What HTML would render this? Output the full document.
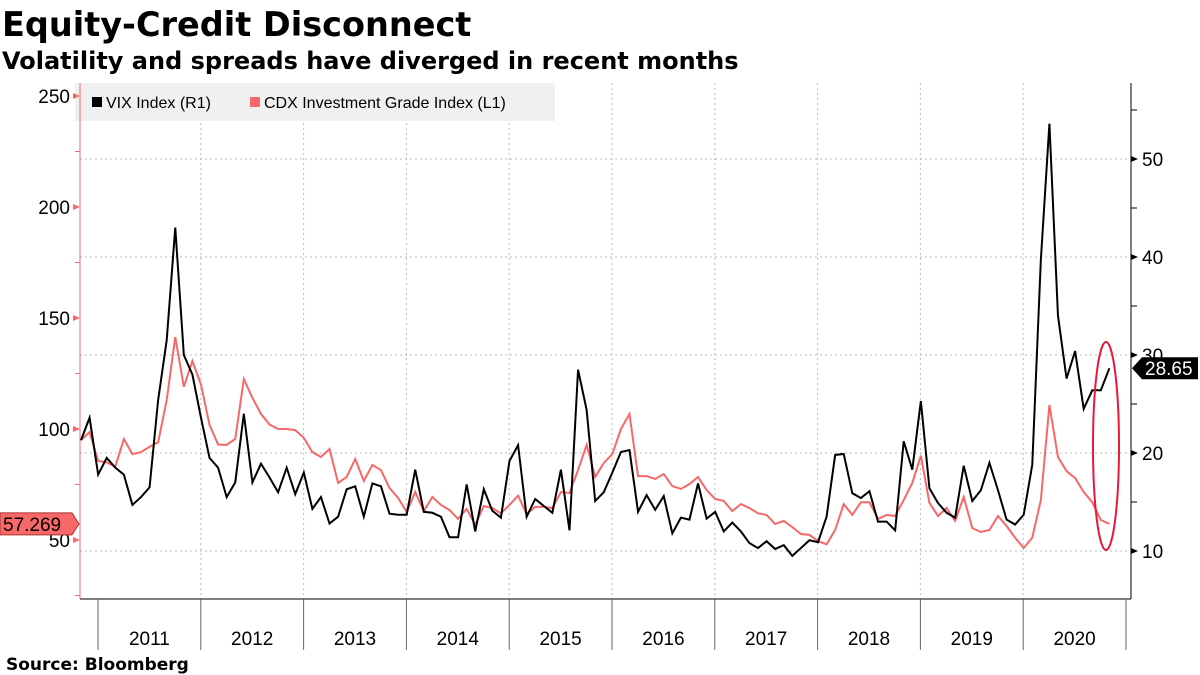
<!DOCTYPE html>
<html><head><meta charset="utf-8"><style>
body{margin:0;background:#fff;width:1200px;height:675px;overflow:hidden;font-family:"Liberation Sans",sans-serif}
svg{display:block}
.dj{font-family:"DejaVu Sans","Liberation Sans",sans-serif}
</style></head><body>
<svg width="1200" height="675" id="c">
<text class="dj" x="2" y="36" font-size="33.5" font-weight="bold">Equity-Credit Disconnect</text>
<text class="dj" x="2" y="69" font-size="24" font-weight="bold">Volatility and spreads have diverged in recent months</text>
<text class="dj" x="6" y="670" font-size="17" font-weight="bold">Source: Bloomberg</text>
<g id="grid"></g>
<rect x="75" y="83" width="480" height="38" fill="#f0f0f0"/>
<rect x="92" y="97" width="10" height="10" fill="#000"/>
<text x="106" y="108" font-size="16">VIX Index (R1)</text>
<rect x="250" y="97" width="10" height="10" fill="#f86868"/>
<text x="264" y="108" font-size="16">CDX Investment Grade Index (L1)</text>
<g id="axes"></g>
<g id="series"></g>
<ellipse cx="1106" cy="446" rx="13" ry="104" fill="none" stroke="#e8193c" stroke-width="2"/>
</svg>
<script>
const vix=[21.3,23.6,17.8,19.5,18.5,17.8,14.7,15.5,16.5,25.4,31.5,43,30,28,23.6,19.5,18.5,15.5,17,24,17,18.9,17.5,16,18.5,15.8,18,14.3,15.5,12.8,13.5,16.3,16.6,13.5,16.9,16.6,13.8,13.7,13.7,18.3,14,13.9,13.5,11.4,11.4,16.8,12,16.3,14.1,13.4,19.2,20.8,13.5,15.3,14.6,13.9,18.3,12.1,28.5,24.4,15.1,16,18,20.1,20.3,14,15.7,14.2,15.6,11.8,13.4,13.2,16.9,13.3,14,12,12.9,12,10.8,10.3,11,10.2,10.6,9.5,10.3,11.1,10.9,13.5,19.8,19.9,15.9,15.4,16.1,13,13,12.1,21.2,18.3,25.3,16.4,14.9,13.9,13.4,18.7,15.1,16.2,19,16.2,13.2,12.7,13.7,18.8,39.7,53.6,34,27.6,30.4,24.5,26.4,26.4,28.65];
const cdx=[95,98.6,85.6,85,83,95.5,88.7,89.6,92,94,113,141.4,119,130.6,120,101.8,93,92.8,95.5,122.5,114,106.8,102,100,100,99.5,96,89.6,87.4,91,75.7,78.4,86.5,76.6,83.8,81.5,73.4,69,62.6,71.6,63,69.4,65.8,63.5,59.5,64,56.8,65.3,64.4,62,65.8,70,61.7,64.9,64.9,64.4,71.6,71.2,81.5,92.8,78.4,84.7,88.7,100,106.8,78.8,78.8,77.5,79.7,74.3,73,75.2,78.4,72.5,68.5,67.6,63,66.2,64.4,62,61.3,57.2,58.6,55.8,52.7,52.3,49.5,48,54.5,66.2,61.3,67,67,59.5,61.3,60.8,68,75.7,88,66.7,60.8,64.4,58.6,69.4,55.4,53.6,54.5,60.8,56.3,51,46.4,51,68,110.8,87.4,81,77.9,71.6,67,59,57.269];
const years=["2011","2012","2013","2014","2015","2016","2017","2018","2019","2020"];
const leftTicks=[50,100,150,200,250];
const rightTicks=[10,20,30,40,50];
const NS="http://www.w3.org/2000/svg";
const X0=81,DX=8.57;
const xi=i=>X0+i*DX;
const yL=v=>540-(v-50)*2.22;
const yR=v=>551-(v-10)*9.8;
const yearX=k=>98+k*102.8;
function mk(p,t,a){const e=document.createElementNS(NS,t);for(const k in a)e.setAttribute(k,a[k]);p.appendChild(e);return e;}
const grid=document.getElementById('grid'),axes=document.getElementById('axes'),ser=document.getElementById('series');
rightTicks.forEach(v=>{const l=mk(grid,'line',{x1:80,x2:1131,y1:yR(v),y2:yR(v),stroke:'#bbb','stroke-dasharray':'2,3'});

});
for(let k=1;k<=years.length-1;k++){const l=mk(grid,'line',{x1:yearX(k),x2:yearX(k),y1:83,y2:599,stroke:'#bbb','stroke-dasharray':'2,3'});

}
mk(axes,'line',{x1:80,x2:80,y1:83,y2:599,stroke:'#f86868'});
mk(axes,'line',{x1:1131,x2:1131,y1:83,y2:599,stroke:'#000'});
mk(axes,'line',{x1:80,x2:1131,y1:599,y2:599,stroke:'#000'});
leftTicks.forEach(v=>{const y=yL(v);mk(axes,'path',{d:`M73 ${y-3}L80 ${y}L73 ${y+3}Z`,fill:'#f86868'});
const t=mk(axes,'text',{x:70,y:y+7,'font-size':19,'text-anchor':'end'});t.textContent=v;

});
[25,75,125,175,225].forEach(v=>mk(axes,'line',{x1:75,x2:80,y1:yL(v),y2:yL(v),stroke:'#f86868'}));
rightTicks.forEach(v=>{const y=yR(v);mk(axes,'path',{d:`M1131 ${y-3}L1138 ${y}L1131 ${y+3}Z`,fill:'#000'});
const t=mk(axes,'text',{x:1142,y:y+7,'font-size':19});t.textContent=v;

});
[15,25,35,45,55].forEach(v=>mk(axes,'line',{x1:1131,x2:1137,y1:yR(v),y2:yR(v),stroke:'#000'}));
for(let k=0;k<=years.length;k++)mk(axes,'line',{x1:yearX(k),x2:yearX(k),y1:599,y2:650,stroke:'#666'});
years.forEach((yr,k)=>{const t=mk(axes,'text',{x:yearX(k)+51.4,y:645,'font-size':19,'text-anchor':'middle'});t.textContent=yr;

});
const pc=mk(ser,'polyline',{points:cdx.map((v,i)=>xi(i)+','+yL(v)).join(' '),fill:'none',stroke:'#f86868','stroke-width':2});


const pv=mk(ser,'polyline',{points:vix.map((v,i)=>xi(i)+','+yR(v)).join(' '),fill:'none',stroke:'#000','stroke-width':2});


const lv=vix[vix.length-1],lc=cdx[cdx.length-1];
const yv=yR(lv),yc=yL(lc);
const bv=mk(axes,'path',{d:`M1132 ${yv}L1142 ${yv-11}H1198V${yv+11}H1142Z`,fill:'#000'});


const tv=mk(axes,'text',{x:1145,y:yv+7,'font-size':19,fill:'#fff'});tv.textContent=lv.toFixed(2);


const bc=mk(axes,'path',{d:`M0 ${yc-11}H72L79 ${yc}L72 ${yc+11}H0Z`,fill:'#f86868',stroke:'#a33','stroke-width':1});


const tc=mk(axes,'text',{x:3,y:yc+7,'font-size':19,fill:'#000'});tc.textContent=lc.toFixed(3);


</script>
</body></html>
